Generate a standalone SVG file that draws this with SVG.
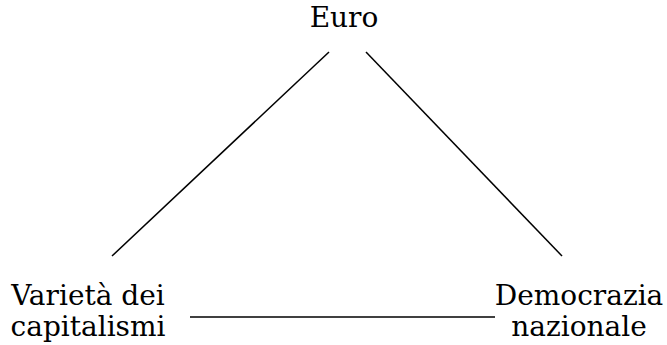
<svg xmlns="http://www.w3.org/2000/svg" width="667" height="345" viewBox="0 0 667 345">
<style>
text{font-family:"DejaVu Serif","Liberation Serif",serif;font-size:28px;fill:#000}
.c line{stroke:#000;stroke-width:1.5}
</style>
<rect width="667" height="345" fill="#fff"/>
<g id="euro"><text x="344" y="27" text-anchor="middle">Euro</text></g>
<g id="varieta"><text x="88" y="305" text-anchor="middle">Varietà dei</text><text x="88" y="336" text-anchor="middle">capitalismi</text></g>
<g id="democrazia"><text x="579" y="305" text-anchor="middle">Democrazia</text><text x="579" y="336" text-anchor="middle">nazionale</text></g>
<g class="c" id="connectors">
<line x1="329" y1="52" x2="112" y2="256"/>
<line x1="366" y1="52" x2="562" y2="256"/>
<line x1="190" y1="317" x2="495" y2="317"/>
</g>
</svg>
